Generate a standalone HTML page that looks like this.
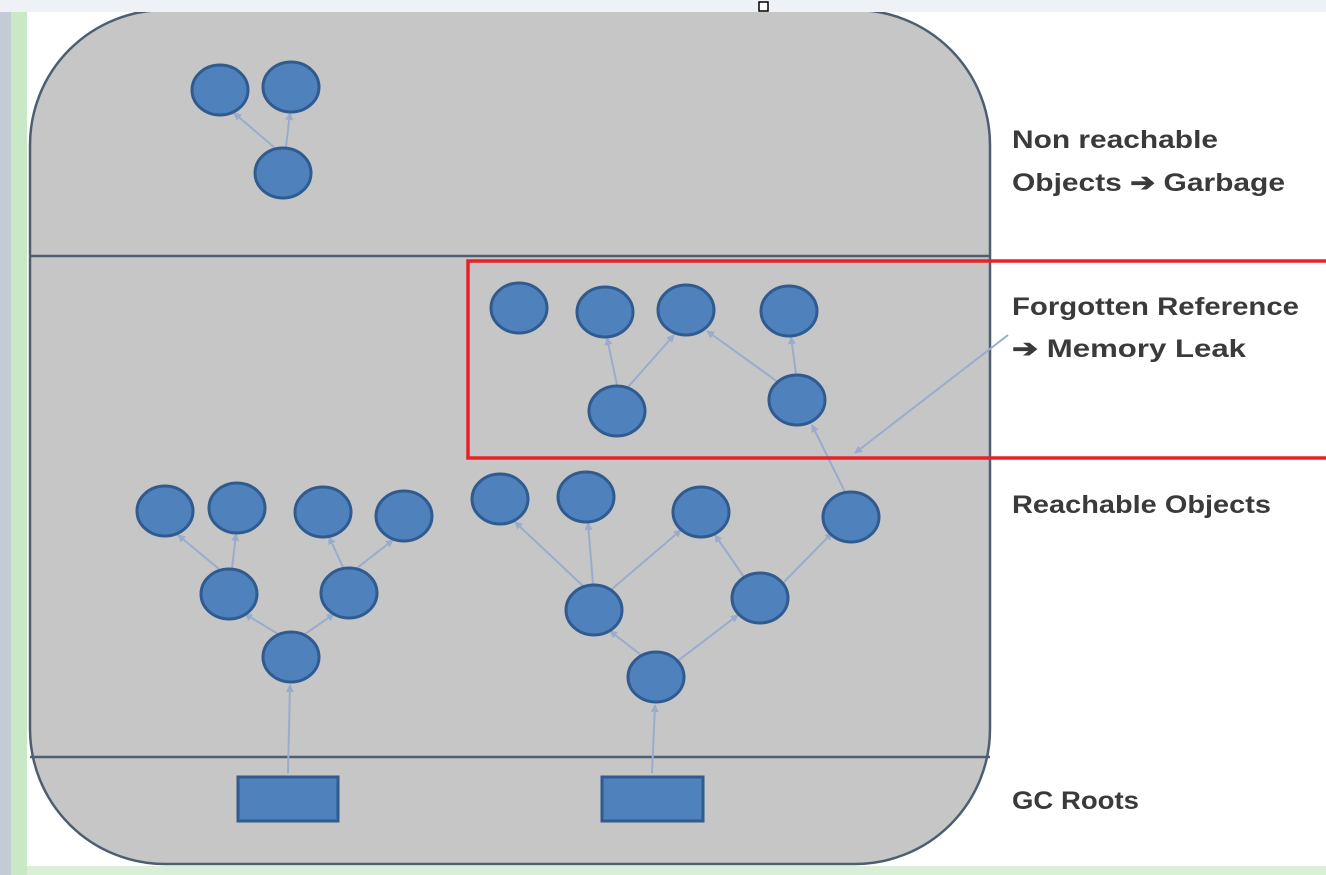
<!DOCTYPE html>
<html><head><meta charset="utf-8"><style>
html,body{margin:0;padding:0;background:#fff;}
svg{display:block}
</style></head><body>
<svg width="1326" height="875" viewBox="0 0 1326 875" xmlns="http://www.w3.org/2000/svg">
<defs>
<marker id="a" markerWidth="8" markerHeight="8" refX="7" refY="4" orient="auto" markerUnits="userSpaceOnUse">
<path d="M0,0 L8,4 L0,8 z" fill="#9aaccc"/></marker>
</defs>
<rect x="0" y="0" width="1326" height="875" fill="#fff"/>
<rect x="0" y="12" width="11" height="863" fill="#c3ccd6"/>
<rect x="11" y="12" width="16" height="863" fill="#c9e9c6"/>
<rect x="27" y="866" width="1299" height="9" fill="#d9efd6"/>
<rect x="30" y="10" width="960" height="854" rx="135" ry="135" fill="#c6c6c6" stroke="#4e5e70" stroke-width="2.5"/>
<rect x="0" y="0" width="1326" height="12" fill="#eef1f5"/>
<rect x="759" y="2" width="9" height="9" fill="#fff" stroke="#000" stroke-width="1.5"/>
<line x1="30" y1="256" x2="990" y2="256" stroke="#4e5e70" stroke-width="2.5"/>
<line x1="30" y1="757" x2="990" y2="757" stroke="#4e5e70" stroke-width="2.5"/>
<g stroke="#9aaccc" stroke-width="2" marker-end="url(#a)">
<line x1="275" y1="148" x2="234" y2="113"/>
<line x1="286" y1="147" x2="290" y2="113"/>
<line x1="617" y1="385" x2="607" y2="338"/>
<line x1="628" y1="387" x2="674" y2="335"/>
<line x1="778" y1="382" x2="707" y2="331"/>
<line x1="796" y1="374" x2="791" y2="337"/>
<line x1="845" y1="492" x2="812" y2="425"/>
<line x1="1008" y1="335" x2="855" y2="453"/>
<line x1="219" y1="569" x2="178" y2="535"/>
<line x1="232" y1="568" x2="236" y2="534"/>
<line x1="343" y1="567" x2="329" y2="537"/>
<line x1="357" y1="568" x2="393" y2="540"/>
<line x1="278" y1="634" x2="245" y2="614"/>
<line x1="305" y1="634" x2="334" y2="614"/>
<line x1="288" y1="773" x2="290" y2="685"/>
<line x1="583" y1="586" x2="515" y2="522"/>
<line x1="593" y1="584" x2="588" y2="523"/>
<line x1="612" y1="589" x2="681" y2="530"/>
<line x1="641" y1="655" x2="610" y2="631"/>
<line x1="675" y1="663" x2="738" y2="615"/>
<line x1="744" y1="577" x2="715" y2="535"/>
<line x1="782" y1="584" x2="832" y2="533"/>
<line x1="652" y1="773" x2="655" y2="705"/>
</g>
<g fill="#4f81bd" stroke="#2f5b8f" stroke-width="3">
<ellipse cx="220" cy="90" rx="28" ry="25"/>
<ellipse cx="291" cy="87" rx="28" ry="25"/>
<ellipse cx="283" cy="173" rx="28" ry="25"/>
<ellipse cx="519" cy="308" rx="28" ry="25"/>
<ellipse cx="605" cy="312" rx="28" ry="25"/>
<ellipse cx="686" cy="310" rx="28" ry="25"/>
<ellipse cx="789" cy="311" rx="28" ry="25"/>
<ellipse cx="617" cy="411" rx="28" ry="25"/>
<ellipse cx="797" cy="400" rx="28" ry="25"/>
<ellipse cx="165" cy="511" rx="28" ry="25"/>
<ellipse cx="237" cy="508" rx="28" ry="25"/>
<ellipse cx="323" cy="512" rx="28" ry="25"/>
<ellipse cx="404" cy="516" rx="28" ry="25"/>
<ellipse cx="229" cy="594" rx="28" ry="25"/>
<ellipse cx="349" cy="593" rx="28" ry="25"/>
<ellipse cx="291" cy="657" rx="28" ry="25"/>
<ellipse cx="500" cy="499" rx="28" ry="25"/>
<ellipse cx="586" cy="497" rx="28" ry="25"/>
<ellipse cx="701" cy="512" rx="28" ry="25"/>
<ellipse cx="851" cy="517" rx="28" ry="25"/>
<ellipse cx="594" cy="610" rx="28" ry="25"/>
<ellipse cx="760" cy="598" rx="28" ry="25"/>
<ellipse cx="656" cy="677" rx="28" ry="25"/>
<rect x="238" y="777" width="100" height="44"/>
<rect x="602" y="777" width="101" height="44"/>
</g>
<rect x="468" y="261" width="860" height="197" fill="none" stroke="#e8202a" stroke-width="3.5"/>
<g font-family="'Liberation Sans',sans-serif" font-size="25" font-weight="bold" fill="#3a3a3a">
<text x="1012" y="148" textLength="206" lengthAdjust="spacingAndGlyphs">Non reachable</text>
<text x="1012" y="191" textLength="273" lengthAdjust="spacingAndGlyphs">Objects ➔ Garbage</text>
<text x="1012" y="315" textLength="287" lengthAdjust="spacingAndGlyphs">Forgotten Reference</text>
<text x="1012" y="357" textLength="234" lengthAdjust="spacingAndGlyphs">➔ Memory Leak</text>
<text x="1012" y="513" textLength="259" lengthAdjust="spacingAndGlyphs">Reachable Objects</text>
<text x="1012" y="809" textLength="127" lengthAdjust="spacingAndGlyphs">GC Roots</text>
</g>
</svg>
</body></html>
